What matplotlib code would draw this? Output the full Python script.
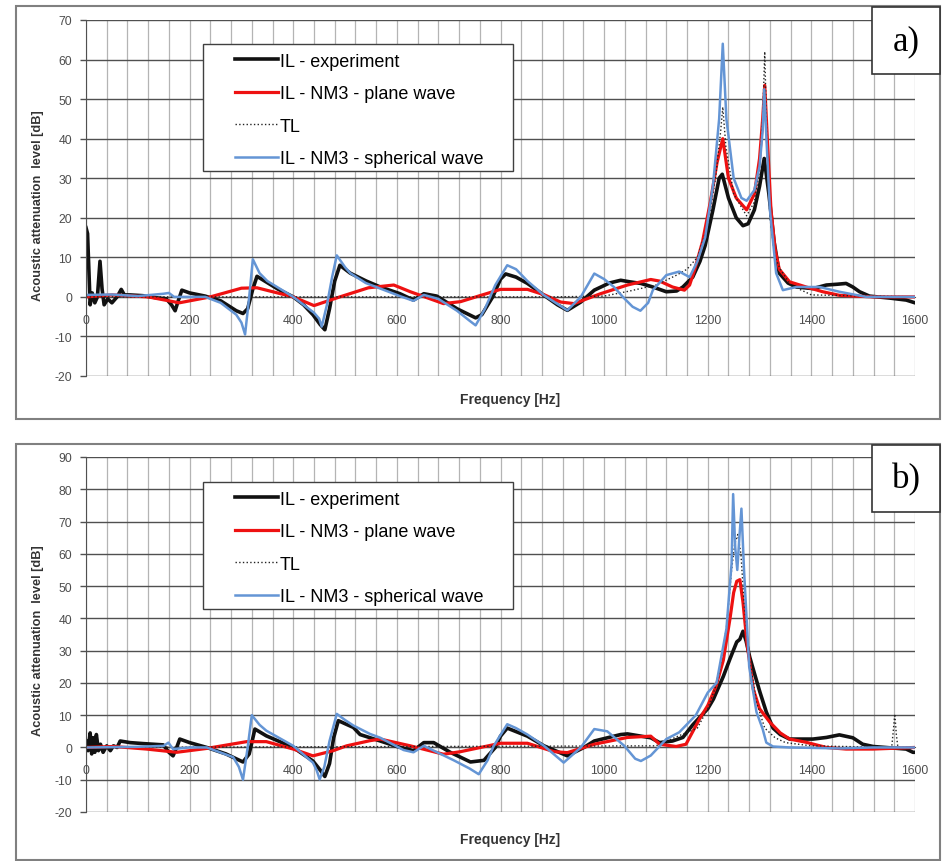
import numpy as np
import matplotlib.pyplot as plt
from matplotlib.patches import Rectangle
from matplotlib.ticker import MultipleLocator

plt.rcParams['font.family'] = ['Liberation Sans', 'DejaVu Sans']
plt.rcParams['axes.unicode_minus'] = False

# ---------------- Data: panel a) ----------------
f_exp_a = [0, 3, 8, 12, 17, 22, 27, 31, 35, 42, 50, 60, 68, 74, 85, 110, 140, 155, 165, 172, 178, 185,
           200, 230, 260, 290, 303, 312, 322, 330, 345, 370, 400, 420, 438, 452, 461, 470, 480, 490, 510,
           541, 568, 606, 632, 652, 677, 716, 752, 764, 785, 800, 810, 830, 852, 884, 910, 929, 955, 981,
           1010, 1032, 1050, 1071, 1094, 1120, 1140, 1152, 1171, 1185, 1195, 1210, 1222, 1228, 1240, 1255,
           1268, 1278, 1290, 1300, 1309, 1318, 1328, 1338, 1355, 1371, 1403, 1429, 1450, 1467, 1480, 1493,
           1512, 1551, 1583, 1600]
v_exp_a = [17.5, 16, -2, 1, -1.5, 0, 9, 2, -2, -0.5, -1.5, 0, 1.9, 0.5, 0.5, 0.3, -0.3, -0.5, -2, -3.5, -1, 1.7,
           1, 0.2, -1, -3.5, -4.2, -3, 2, 5.2, 4, 2, 0, -2, -4.5, -7, -8.3, -3, 4, 8, 6,
           4, 2.5, 0.8, -0.8, 0.8, 0.2, -3, -5.3, -4.5, 0, 4.5, 5.8, 5, 3.4, 0.4, -2, -3.4, -1.3, 1.7,
           3.5, 4.2, 3.8, 3.4, 2.5, 1.3, 1.5, 2.5, 5, 9, 13, 22, 30, 31, 25, 20,
           18, 18.5, 22, 28, 35, 26, 14, 6, 3.5, 2.5, 2.1, 3, 3.2, 3.4, 2.5, 1.3,
           0.2, -0.3, -0.8, -1.5]

f_plane_a = [0, 50, 120, 180, 240, 300, 330, 400, 440, 490, 545, 594, 626, 690, 723, 760, 800, 852, 885, 916,
             942, 993, 1045, 1090, 1107, 1132, 1155, 1165, 1175, 1190, 1205, 1218, 1229, 1240, 1255, 1275,
             1290, 1300, 1306, 1310, 1315, 1322, 1330, 1338, 1358, 1390, 1422, 1454, 1519, 1600]
v_plane_a = [0, 0.5, 0, -1.5, 0, 2.2, 2.3, 0, -2.2, 0, 2.3, 3, 1.3, -1.7, -1.2, 0.3, 1.9, 1.9, 0.5, -1.3,
             -1.7, 0.8, 3, 4.4, 4, 2.5, 1.7, 3, 7, 14, 24, 34, 40, 30, 25, 22,
             26, 35, 45, 53.5, 40, 22, 12, 7, 3.8, 2.5, 1.3, 0.4, 0, 0]

f_tl_a = [0, 900, 1000, 1050, 1100, 1140, 1160, 1180, 1200, 1215, 1225, 1229, 1235, 1250, 1275, 1290,
          1300, 1306, 1310, 1314, 1320, 1330, 1340, 1360, 1400, 1600]
v_tl_a = [0, 0, 0.2, 1.5, 3, 5.5, 7, 10, 18, 30, 42, 48, 38, 26, 20.5, 24,
          32, 45, 62, 40, 20, 10, 7, 3, 0.5, 0]

f_sph_a = [0, 50, 100, 150, 160, 170, 200, 230, 260, 290, 300, 307, 315, 322, 335, 350, 400, 440, 450, 455,
           465, 475, 484, 500, 510, 540, 570, 610, 632, 652, 680, 716, 740, 752, 770, 790, 813, 830, 852,
           884, 929, 955, 981, 1000, 1019, 1039, 1055, 1070, 1085, 1094, 1120, 1145, 1165, 1180, 1195,
           1210, 1222, 1229, 1236, 1250, 1265, 1275, 1290, 1300, 1306, 1309, 1314, 1320, 1332, 1345, 1371,
           1416, 1454, 1506, 1600]
v_sph_a = [0.5, 0.6, 0.2, 0.8, 1, 0, 0, 0, -1.5, -4.5, -6.5, -9.5, 0, 9.5, 6, 4, 0, -4, -5.5, -7.5,
           -2, 5, 10.5, 7.5, 6, 3.5, 2, 0, -1, 0.5, -0.5, -3.5, -6, -7.2, -3, 3, 8, 7, 4,
           0.4, -3.4, 0, 5.9, 4.5, 2.5, -0.4, -2.5, -3.5, -1.5, 1.7, 5.5, 6.4, 5, 9, 15,
           28, 45, 64, 45, 30, 25, 24.3, 27, 33, 42, 52.5, 38, 22, 6, 1.7, 2.5,
           2.5, 1.3, 0, 0]

# ---------------- Data: panel b) ----------------
f_exp_b = [0, 4, 8, 11, 14, 17, 20, 24, 28, 33, 40, 47, 53, 60, 66, 85, 110, 149, 160, 168, 175, 181, 200,
           233, 270, 303, 315, 326, 348, 400, 438, 452, 461, 470, 478, 487, 516, 529, 568, 600, 632, 652,
           671, 703, 742, 768, 790, 800, 813, 852, 884, 929, 961, 981, 1032, 1045, 1090, 1107, 1132, 1152,
           1171, 1200, 1211, 1230, 1243, 1256, 1262, 1268, 1274, 1281, 1290, 1301, 1313, 1326, 1340, 1358,
           1403, 1429, 1454, 1480, 1499, 1519, 1583, 1596, 1600]
v_exp_b = [2, -1, 4.5, -2, 3, -1.5, 4, -1, 1, -1.5, 0.5, -1, 0.5, 0, 2, 1.5, 1.2, 0.8, -1.5, -2.6, 0, 2.6, 1.5,
           0, -2, -4.5, -2, 5.7, 3.6, 0, -4.2, -7, -9, -5, 3, 8.3, 6.2, 4, 2, 0.3, -1, 1.5,
           1.5, -1.5, -4.5, -4, 0, 3.5, 6, 3.5, 0.5, -2.6, 0, 2, 4, 4.2, 3, 1.5, 2, 3.1,
           7, 12, 15, 22, 27.5, 32.7, 33.5, 36, 33, 28, 23, 17, 11, 6, 4, 2.6,
           2.6, 3.1, 3.9, 3, 1, 0.3, -0.5, -1.5, -1.5]

f_plane_b = [0, 53, 117, 175, 233, 310, 348, 400, 438, 477, 503, 548, 568, 626, 690, 723, 800, 852, 903, 929,
             981, 1045, 1090, 1107, 1139, 1158, 1184, 1200, 1216, 1230, 1243, 1250, 1256, 1262, 1268, 1276,
             1288, 1300, 1320, 1340, 1358, 1390, 1429, 1467, 1519, 1600]
v_plane_b = [0, 0.3, -0.5, -1.5, -0.3, 1.8, 1.8, -0.5, -2.6, -1, 0.5, 2.1, 2.6, 0.5, -2.1, -1.3, 1.3, 1.3, -1.3, -1.6,
             1, 3.1, 3.5, 1, 0.3, 1, 8.8, 13, 19, 27, 40, 48, 51.5, 52, 45, 32,
             18, 12, 7.8, 4.5, 2.6, 1.6, 0, -0.5, -0.5, 0]

f_tl_b = [0, 1100, 1150, 1180, 1200, 1220, 1236, 1246, 1252, 1258, 1264, 1270, 1280, 1294, 1310, 1330, 1350,
          1400, 1555, 1558, 1561, 1564, 1567, 1600]
v_tl_b = [0, 0.5, 4, 6, 12, 21, 37, 55, 63, 66, 60, 45, 28, 14, 6, 3, 1.5,
          0.5, 0, 5, 10.4, 4, 0, 0]

f_sph_b = [0, 100, 150, 159, 168, 200, 233, 284, 295, 303, 312, 320, 335, 348, 400, 438, 445, 451, 460, 470,
           484, 500, 516, 548, 568, 613, 632, 652, 710, 740, 758, 775, 787, 813, 830, 852, 884, 922, 955,
           981, 1006, 1039, 1060, 1071, 1090, 1120, 1145, 1177, 1200, 1217, 1236, 1246, 1249, 1253, 1257,
           1261, 1265, 1270, 1280, 1294, 1306, 1313, 1326, 1358, 1454, 1519, 1600]
v_sph_b = [0, 0.2, 0.5, 1.5, -0.5, 0, 0, -3, -6, -10, 0, 10, 7, 5.2, 0.5, -4.7, -7, -9.9, -6, 2,
           10.4, 8.5, 6.8, 4.2, 3, -0.8, -1.5, 0.5, -4, -6.5, -8.3, -4, 0.5, 7.2, 6, 4, 0.5, -4.7, 0,
           5.7, 5, 0.5, -3.5, -4.2, -2.5, 2.6, 4.7, 10, 17, 20, 36.7, 57, 78.5, 62, 55,
           65, 74, 55, 25, 11, 5.7, 1.5, 0.3, 0, -0.3, 0, 0]

labels = ["IL - experiment", "IL - NM3 - plane wave", "TL", "IL - NM3 - spherical wave"]
x_ticks = [0, 200, 400, 600, 800, 1000, 1200, 1400, 1600]

panels = [
    dict(series=[(f_exp_a, v_exp_a), (f_plane_a, v_plane_a), (f_tl_a, v_tl_a), (f_sph_a, v_sph_a)],
         ylim=(-20, 70), tag="a)"),
    dict(series=[(f_exp_b, v_exp_b), (f_plane_b, v_plane_b), (f_tl_b, v_tl_b), (f_sph_b, v_sph_b)],
         ylim=(-20, 90), tag="b)"),
]

# styles: experiment, plane wave, TL, spherical wave
styles = [
    dict(color='#111111', lw=2.6, ls='-'),
    dict(color='#ee1111', lw=2.3, ls='-'),
    dict(color='#222222', lw=1.0, ls=':'),
    dict(color='#6495d5', lw=1.8, ls='-'),
]

W, H = 943, 862
fig = plt.figure(figsize=(W / 100, H / 100), dpi=100)

# pixel layout per panel: outer box, axes box, legend box, tag box, label positions
layout = [
    dict(outer=(16, 7, 940, 420), ax=(86, 21, 915, 377), leg=(203, 45, 513, 172), tag=(872, 8, 940, 75),
         xlab=400, ylab=(38, 206)),
    dict(outer=(16, 445, 940, 861), ax=(86, 458, 915, 813), leg=(203, 483, 513, 610), tag=(872, 446, 940, 513),
         xlab=840, ylab=(38, 641)),
]


def fx(px):
    return px / W


def fy(py):
    return 1 - py / H


for panel, lay in zip(panels, layout):
    x0, y0, x1, y1 = lay['outer']
    fig.add_artist(Rectangle((fx(x0), fy(y1)), fx(x1) - fx(x0), fy(y0) - fy(y1),
                             transform=fig.transFigure, fill=False, edgecolor='#808080', lw=1.5, zorder=0))

    a0, b0, a1, b1 = lay['ax']
    ax = fig.add_axes([fx(a0), fy(b1), fx(a1) - fx(a0), fy(b0) - fy(b1)])

    lines = []
    for (f, v), st in zip(panel['series'], styles):
        ln, = ax.plot(f, v, color=st['color'], lw=st['lw'], linestyle=st['ls'], solid_joinstyle='round')
        lines.append(ln)

    ax.set_xlim(0, 1600)
    ax.set_ylim(*panel['ylim'])
    ax.set_xticks(x_ticks)
    ax.xaxis.set_minor_locator(MultipleLocator(40))
    ax.yaxis.set_major_locator(MultipleLocator(10))

    ax.grid(which='major', axis='y', color='#505050', lw=1.0)
    ax.grid(which='both', axis='x', color='#b4b4b4', lw=0.9)
    ax.set_axisbelow(True)

    for s in ['top', 'right']:
        ax.spines[s].set_visible(False)
    ax.spines['bottom'].set_position(('data', 0))
    ax.spines['bottom'].set_color('#505050')
    ax.spines['left'].set_color('#505050')
    ax.spines['bottom'].set_zorder(0.5)

    ax.tick_params(axis='x', which='both', length=0, pad=12, labelsize=8.8, labelcolor='#4d4d4d')
    ax.tick_params(axis='y', length=4, width=1, color='#505050', pad=6, labelsize=8.8, labelcolor='#4d4d4d')

    # legend frame drawn separately so its size matches the original box
    l0, m0, l1, m1 = lay['leg']
    ax.add_patch(Rectangle((fx(l0), fy(m1)), fx(l1) - fx(l0), fy(m0) - fy(m1), transform=fig.transFigure,
                           facecolor='white', edgecolor='#404040', lw=1.0, zorder=4, clip_on=False))
    ax.legend(lines, labels, loc='upper left',
              bbox_to_anchor=(fx(l0 + 28), fy(m0 + 5)), bbox_transform=fig.transFigure,
              fontsize=13, frameon=False, handlelength=2.4, handletextpad=0.1, labelspacing=0.86,
              borderpad=0.2, borderaxespad=0)

    fig.text(fx(510), fy(lay['xlab']), "Frequency [Hz]", ha='center', va='center',
             fontsize=10, fontweight='bold', color='#333333')
    fig.text(fx(lay['ylab'][0]), fy(lay['ylab'][1]), "Acoustic attenuation  level [dB]", ha='center',
             va='center', rotation=90, fontsize=9.2, fontweight='bold', color='#333333')

    t0, u0, t1, u1 = lay['tag']
    fig.add_artist(Rectangle((fx(t0), fy(u1)), fx(t1) - fx(t0), fy(u0) - fy(u1),
                             transform=fig.transFigure, facecolor='white', edgecolor='#333333',
                             lw=1.2, zorder=5))
    fig.text(fx((t0 + t1) / 2), fy((u0 + u1) / 2), panel['tag'], ha='center', va='center',
             fontsize=25, family=['Liberation Serif', 'DejaVu Serif'], zorder=6)

plt.savefig('out.png', dpi=100)
